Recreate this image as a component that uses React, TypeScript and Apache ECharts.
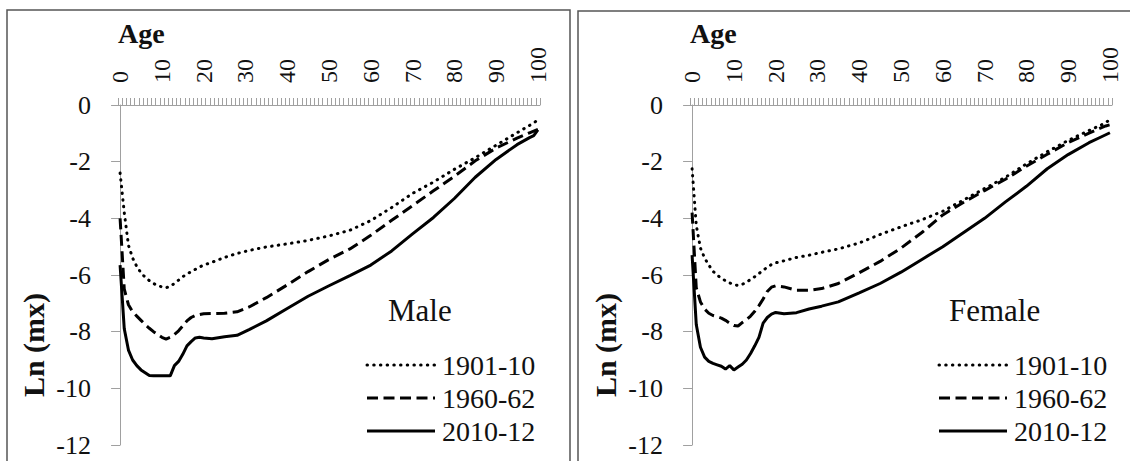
import { useEffect, useRef } from "react";
import * as echarts from "echarts";

// Ages at which the log death rates are plotted
const AGES = [
  0, 1, 2, 3, 4, 5, 6, 7, 8, 9, 10, 11, 12, 13, 14, 15, 16, 17, 18, 19, 20,
  22, 25, 28, 31, 35, 40, 45, 50, 55, 60, 65, 70, 75, 80, 85, 90, 95, 98, 99, 100,
];

// Category labels of the age axis, one per year of age
const AGE_CATEGORIES = Array.from({ length: 101 }, (_, i) => String(i));

const PERIODS = ["1901-10", "1960-62", "2010-12"];

// Ln(mx), males
const MALE_1901 = [
  -2.4, -3.8, -4.95, -5.4, -5.7, -5.92, -6.08, -6.2, -6.3, -6.37, -6.42, -6.45, -6.4, -6.3, -6.18, -6.06, -5.97, -5.88, -5.8, -5.72, -5.65,
  -5.55, -5.38, -5.24, -5.13, -5.01, -4.9, -4.78, -4.62, -4.42, -4.08, -3.62, -3.12, -2.72, -2.27, -1.86, -1.42, -0.98, -0.72, -0.63, -0.53,
];
const MALE_1960 = [
  -4.0, -6.5, -7.05, -7.3, -7.45, -7.6, -7.75, -7.88, -8.0, -8.1, -8.2, -8.26, -8.2, -8.1, -7.97, -7.8, -7.62, -7.5, -7.43, -7.4, -7.37,
  -7.36, -7.35, -7.3, -7.12, -6.8, -6.35, -5.88, -5.45, -5.08, -4.6, -4.07, -3.55, -3.03, -2.52, -1.97, -1.52, -1.17, -0.98, -0.92, -0.86,
];
const MALE_2010 = [
  -5.65, -7.9, -8.65, -9.0, -9.2, -9.35, -9.45, -9.55, -9.56, -9.56, -9.56, -9.56, -9.56, -9.2, -9.05, -8.8, -8.5, -8.35, -8.22, -8.2, -8.22,
  -8.25, -8.18, -8.13, -7.92, -7.62, -7.18, -6.75, -6.38, -6.02, -5.65, -5.15, -4.55, -3.97, -3.3, -2.55, -1.92, -1.4, -1.15, -1.08, -0.88,
];

// Ln(mx), females
const FEMALE_1901 = [
  -2.25, -4.25, -5.05, -5.4, -5.65, -5.87, -6.0, -6.12, -6.2, -6.28, -6.34, -6.37, -6.33, -6.25, -6.16, -6.06, -5.95, -5.83, -5.73, -5.63, -5.57,
  -5.5, -5.38, -5.3, -5.2, -5.08, -4.87, -4.57, -4.3, -4.05, -3.75, -3.35, -2.95, -2.55, -2.08, -1.65, -1.25, -0.9, -0.7, -0.62, -0.52,
];
const FEMALE_1960 = [
  -3.8, -6.45, -6.95, -7.2, -7.35, -7.43, -7.47, -7.52, -7.6, -7.7, -7.78, -7.8, -7.68, -7.58, -7.45, -7.28, -7.08, -6.85, -6.58, -6.43, -6.38,
  -6.42, -6.54, -6.54, -6.48, -6.3, -5.92, -5.52, -5.05, -4.5, -3.88, -3.43, -3.02, -2.62, -2.16, -1.74, -1.33, -0.99, -0.8, -0.74, -0.7,
];
const FEMALE_2010 = [
  -5.3, -7.75, -8.55, -8.9, -9.05, -9.12, -9.17, -9.22, -9.32, -9.2, -9.35, -9.25, -9.15, -9.0, -8.77, -8.5, -8.2, -7.7, -7.5, -7.38, -7.32,
  -7.37, -7.33, -7.2, -7.1, -6.95, -6.63, -6.3, -5.9, -5.45, -5.0, -4.5, -4.0, -3.42, -2.87, -2.25, -1.75, -1.33, -1.12, -1.05, -0.98,
];

const Y_MIN = -12;
const Y_MAX = 0;
const Y_STEP = 2;

const FONT = "'Liberation Serif', 'Times New Roman', serif";
const AXIS_GREY = "#a0a0a0";
const INK = "#111111";

// dotted, dashed, solid
const DASHES: (number[] | null)[] = [[0.5, 6.2], [11, 5.5], null];
const CAPS = ["round", "butt", "butt"];

type Panel = { left: number; label: string; labelX: number; sets: number[][] };

const PANELS: Panel[] = [
  { left: 118, label: "Male", labelX: 388, sets: [MALE_1901, MALE_1960, MALE_2010] },
  { left: 690, label: "Female", labelX: 949, sets: [FEMALE_1901, FEMALE_1960, FEMALE_2010] },
];

function textEl(x: number, y: number, text: string, size: number, weight: string, extra: any = {}) {
  return {
    type: "text",
    x,
    y,
    ...extra,
    style: {
      text,
      fontFamily: FONT,
      fontSize: size,
      fontWeight: weight,
      fill: INK,
      align: extra.align ?? "left",
      verticalAlign: "middle",
    },
  };
}

function buildOption() {
  const grid: any[] = [];
  const xAxis: any[] = [];
  const yAxis: any[] = [];
  const series: any[] = [];
  const graphic: any[] = [
    { type: "rect", shape: { x: 7, y: 10, width: 563, height: 470 }, style: { fill: "none", stroke: "#555", lineWidth: 1.5 } },
    { type: "rect", shape: { x: 578, y: 11, width: 600, height: 470 }, style: { fill: "none", stroke: "#555", lineWidth: 1.5 } },
  ];

  PANELS.forEach((p, i) => {
    grid.push({ left: p.left, top: 105, width: 422, height: 340 });
    // visible age axis: one tick per year, a label every ten years
    xAxis.push({
      type: "category",
      gridIndex: i,
      position: "top",
      data: AGE_CATEGORIES,
      boundaryGap: true,
      axisLine: { show: true, lineStyle: { color: AXIS_GREY, width: 1 } },
      axisTick: { show: true, interval: 0, length: 7, lineStyle: { color: AXIS_GREY, width: 1 } },
      axisLabel: {
        interval: 9,
        rotate: 90,
        margin: 22,
        fontFamily: FONT,
        fontSize: 24,
        color: INK,
      },
      splitLine: { show: false },
    });
    // numeric age scale the series are plotted on
    xAxis.push({ type: "value", gridIndex: i, min: -0.5, max: 100.5, show: false });
    yAxis.push({
      type: "value",
      gridIndex: i,
      min: Y_MIN,
      max: Y_MAX,
      interval: Y_STEP,
      axisLine: { show: true, lineStyle: { color: AXIS_GREY, width: 1 } },
      axisTick: { show: true, length: 9, lineStyle: { color: AXIS_GREY, width: 1 } },
      axisLabel: { margin: 27, fontFamily: FONT, fontSize: 26, color: INK },
      splitLine: { show: false },
    });
    p.sets.forEach((vals, k) => {
      series.push({
        type: "line",
        name: PERIODS[k],
        xAxisIndex: i * 2 + 1,
        yAxisIndex: i,
        data: AGES.map((a, j) => [a, vals[j]]),
        symbol: "none",
        showSymbol: false,
        lineStyle: { width: 3, color: "#000", type: DASHES[k] ?? "solid", cap: CAPS[k] },
        z: 3 - k,
      });
    });

    const off = p.left - 118;
    graphic.push(
      textEl(118 + off, 33, "Age", 28, "bold"),
      textEl(33 + off, 345, "Ln (mx)", 30, "bold", { rotation: Math.PI / 2, align: "center" }),
      textEl(p.labelX, 310, p.label, 31, "normal")
    );
    // key: a line sample and the period name for each series
    PERIODS.forEach((name, k) => {
      const y = 365 + k * 33;
      const x0 = 367 + off;
      graphic.push(
        {
          type: "line",
          shape: { x1: x0, y1: y, x2: x0 + 68, y2: y },
          style: { stroke: "#000", lineWidth: 3, lineDash: DASHES[k] ?? undefined, lineCap: CAPS[k] },
        },
        textEl(x0 + 75, y, name, 28, "normal")
      );
    });
  });

  return {
    animation: false,
    backgroundColor: "#fff",
    grid,
    xAxis,
    yAxis,
    series,
    graphic,
  };
}

export default function App() {
  const ref = useRef<HTMLDivElement>(null);
  useEffect(() => {
    if (!ref.current) return;
    const chart = echarts.init(ref.current, undefined, { renderer: "svg" });
    chart.setOption(buildOption());
    return () => chart.dispose();
  }, []);
  return (
    <div
      ref={ref}
      style={{ position: "absolute", left: 0, top: 0, width: 1130, height: 461, background: "#fff" }}
    />
  );
}
